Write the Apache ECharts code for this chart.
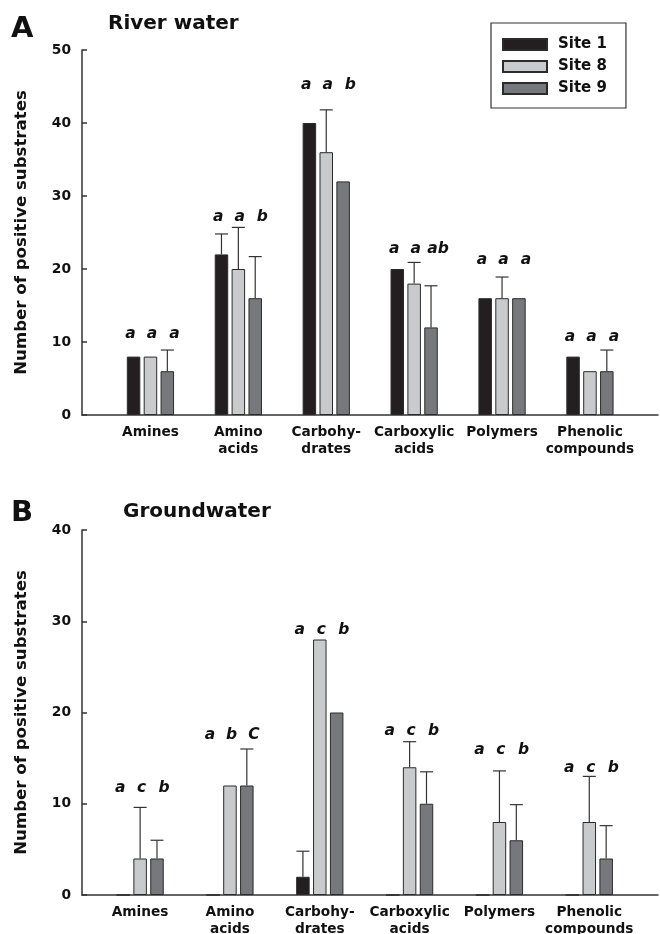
<!DOCTYPE html>
<html><head><meta charset="utf-8">
<script src="https://cdn.jsdelivr.net/npm/echarts@6/dist/echarts.min.js"></script>
<style>html,body{margin:0;padding:0;background:#fff}#c{width:660px;height:934px}</style>
</head><body><div id="c"></div>
<script>
// ---------- data ----------
const categories = ['Amines', 'Amino\nacids', 'Carbohy-\ndrates', 'Carboxylic\nacids', 'Polymers', 'Phenolic\ncompounds'];
const siteNames = ['Site 1', 'Site 8', 'Site 9'];

// Panel A: River water
const riverSite1 = [8, 22, 40, 20, 16, 8];
const riverSite8 = [8, 20, 36, 18, 16, 6];
const riverSite9 = [6, 16, 32, 12, 16, 6];
const riverErr1 = [null, 2.8, null, null, null, null];
const riverErr8 = [null, 5.7, 5.8, 2.9, 2.9, null];
const riverErr9 = [2.9, 5.7, null, 5.7, null, 2.9];
const riverLetters = [['a','a','a'], ['a','a','b'], ['a','a','b'], ['a','a','ab'], ['a','a','a'], ['a','a','a']];
const riverLetterY = [11.1, 27.1, 45.2, 22.7, 21.2, 10.7];
const riverTicks = [0, 10, 20, 30, 40, 50];

// Panel B: Groundwater
const groundSite1 = [0, 0, 2, 0, 0, 0];
const groundSite8 = [4, 12, 28, 14, 8, 8];
const groundSite9 = [4, 12, 20, 10, 6, 4];
const groundErr1 = [null, null, 2.8, null, null, null];
const groundErr8 = [5.6, null, null, 2.8, 5.6, 5.0];
const groundErr9 = [2.0, 4.0, null, 3.5, 3.9, 3.6];
const groundLetters = [['a','c','b'], ['a','b','C'], ['a','c','b'], ['a','c','b'], ['a','c','b'], ['a','c','b']];
const groundLetterY = [11.7, 17.5, 29.0, 18.0, 15.9, 13.95];
const groundTicks = [0, 10, 20, 30, 40];

// ---------- style ----------
const FONT = '"DejaVu Sans", Verdana, sans-serif';
const colors = ['#231f20', '#c9cacc', '#77787c'];
const edge = '#2b2b2b';
const axisColor = '#333';
const BAR_W = 13.5, GAP_RATIO = 0.25;
const STEP = BAR_W * (1 + GAP_RATIO);
const letterOffsets = [-20, 1.5, 24];

function errRender(siteIdx) {
  const off = (siteIdx - 1) * STEP;
  return function (params, api) {
    const c = api.value(0), v = api.value(1), e = api.value(2);
    const b = api.coord([c, v]);
    const t = api.coord([c, v + e]);
    const x = b[0] + off;
    return { type: 'group', children: [
      { type: 'line', shape: { x1: x, y1: b[1], x2: x, y2: t[1] }, style: { stroke: axisColor, lineWidth: 1.2 } },
      { type: 'line', shape: { x1: x - 6.5, y1: t[1], x2: x + 6.5, y2: t[1] }, style: { stroke: axisColor, lineWidth: 1.2 } }
    ]};
  };
}
function letterRender(letters) {
  return function (params, api) {
    const c = api.value(0);
    const p = api.coord([c, api.value(1)]);
    return { type: 'group', children: letters[params.dataIndex].map((L, k) => ({
      type: 'text', x: p[0] + letterOffsets[k], y: p[1],
      style: { text: L, fontFamily: FONT, fontSize: 15.5, fontWeight: 'bold', fontStyle: 'italic',
               fill: '#111', align: 'center', verticalAlign: 'middle' }
    }))};
  };
}

const gridBase = { outerBoundsMode: 'none', containLabel: false };
const grids = [
  Object.assign({ left: 82, right: 2, top: 50, height: 365 }, gridBase),
  Object.assign({ left: 106.5, width: 527.4, top: 50, height: 365 }, gridBase),
  Object.assign({ left: 82, right: 2, top: 530, height: 365 }, gridBase),
  Object.assign({ left: 95.2, width: 539, top: 530, height: 365 }, gridBase)
];

function frameX(gi) {
  return { type: 'value', gridIndex: gi, min: 0, max: 1, axisLine: { show: true, onZero: true, lineStyle: { color: axisColor, width: 1.5 } },
           axisTick: { show: false }, axisLabel: { show: false }, splitLine: { show: false } };
}
function catX(gi) {
  return { type: 'category', gridIndex: gi, data: categories, axisLine: { show: false }, axisTick: { show: false },
           axisLabel: { interval: 0, margin: 9, fontFamily: FONT, fontSize: 13.7, fontWeight: 'bold', color: '#111', lineHeight: 16.7 },
           splitLine: { show: false } };
}
function frameY(gi, ticks) {
  return { type: 'value', gridIndex: gi, min: ticks[0], max: ticks[ticks.length - 1], interval: ticks[1] - ticks[0],
           name: 'Number of positive substrates', nameLocation: 'middle', nameGap: 52,
           nameTextStyle: { fontFamily: FONT, fontSize: 16.6, fontWeight: 'bold', color: '#111' },
           axisLine: { show: true, lineStyle: { color: axisColor, width: 1.5 } },
           axisTick: { show: true, inside: true, length: 5, lineStyle: { color: axisColor, width: 1.5 } },
           axisLabel: { margin: 11, fontFamily: FONT, fontSize: 13.8, fontWeight: 'bold', color: '#111' },
           splitLine: { show: false } };
}
function hiddenY(gi, ticks) {
  return { type: 'value', gridIndex: gi, min: ticks[0], max: ticks[ticks.length - 1], show: false, splitLine: { show: false } };
}

function panelSeries(axisIdx, sites, errs, letters, letterY) {
  const out = [];
  sites.forEach((vals, s) => {
    out.push({ type: 'bar', name: siteNames[s], xAxisIndex: axisIdx, yAxisIndex: axisIdx, data: vals,
               barWidth: BAR_W, barGap: (GAP_RATIO * 100) + '%',
               itemStyle: { color: colors[s], borderColor: edge, borderWidth: 1 }, silent: true, z: 2 });
  });
  errs.forEach((arr, s) => {
    const d = arr.map((e, i) => [i, sites[s][i], e]).filter(x => x[2] != null);
    out.push({ type: 'custom', xAxisIndex: axisIdx, yAxisIndex: axisIdx, data: d, encode: { x: 0, y: 1 },
               renderItem: errRender(s), z: 3, silent: true });
  });
  out.push({ type: 'custom', xAxisIndex: axisIdx, yAxisIndex: axisIdx, data: letterY.map((y, i) => [i, y]),
             encode: { x: 0, y: 1 }, renderItem: letterRender(letters), z: 4, silent: true });
  return out;
}

const chart = echarts.init(document.getElementById('c'), null, { renderer: 'canvas' });
chart.setOption({
  backgroundColor: '#fff',
  animation: false,
  title: [
    { text: 'A', left: 11, top: 15, padding: 0, textStyle: { fontFamily: FONT, fontSize: 29, fontWeight: 'bold', color: '#111' } },
    { text: 'River water', left: 108, top: 14, padding: 0, textStyle: { fontFamily: FONT, fontSize: 20, fontWeight: 'bold', color: '#111' } },
    { text: 'B', left: 11, top: 499, padding: 0, textStyle: { fontFamily: FONT, fontSize: 29, fontWeight: 'bold', color: '#111' } },
    { text: 'Groundwater', left: 123, top: 502, padding: 0, textStyle: { fontFamily: FONT, fontSize: 20, fontWeight: 'bold', color: '#111' } }
  ],
  legend: {
    data: siteNames, orient: 'vertical', left: 491, top: 23,
    padding: [14, 19, 12, 11], itemGap: 7, itemWidth: 44, itemHeight: 11, icon: 'rect',
    borderColor: axisColor, borderWidth: 1.2,
    textStyle: { fontFamily: FONT, fontSize: 15, fontWeight: 'bold', color: '#111', padding: [0, 0, 0, 6] },
    selectedMode: false
  },
  grid: grids,
  xAxis: [frameX(0), catX(1), frameX(2), catX(3)],
  yAxis: [frameY(0, riverTicks), hiddenY(1, riverTicks), frameY(2, groundTicks), hiddenY(3, groundTicks)],
  series: [
    ...panelSeries(1, [riverSite1, riverSite8, riverSite9], [riverErr1, riverErr8, riverErr9], riverLetters, riverLetterY),
    ...panelSeries(3, [groundSite1, groundSite8, groundSite9], [groundErr1, groundErr8, groundErr9], groundLetters, groundLetterY)
  ]
});
</script>
</body></html>
